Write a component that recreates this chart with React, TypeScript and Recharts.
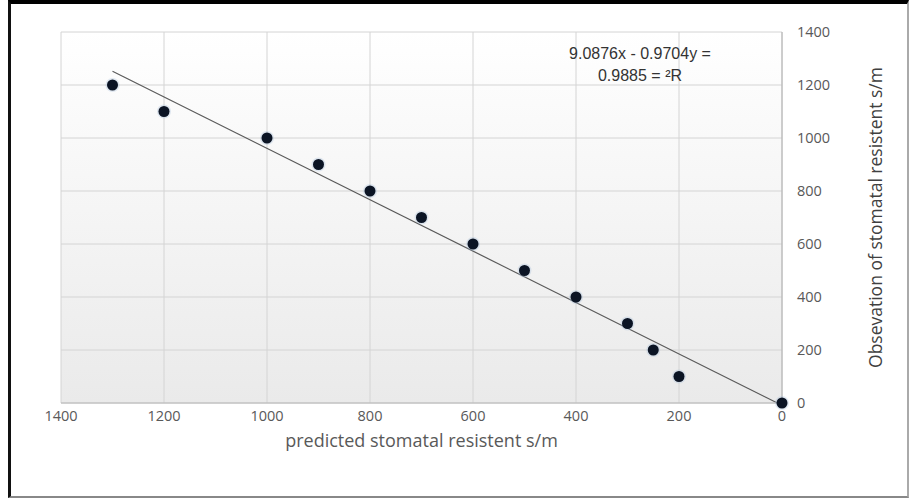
import {
  Scatter, XAxis, YAxis, CartesianGrid, Line, ComposedChart,
} from 'recharts';

// predicted stomatal resistance (x) vs observed (y)
const predicted = [1300, 1200, 1000, 900, 800, 700, 600, 500, 400, 300, 250, 200, 0];
const observed = [1200, 1100, 1000, 900, 800, 700, 600, 500, 400, 300, 200, 100, 0];

// linear trendline endpoints
const trendX = [1300, 9];
const trendY = [1252, 0];

const axisTicks = [0, 200, 400, 600, 800, 1000, 1200, 1400];

const points = predicted.map((x, i) => ({ x, y: observed[i] }));
const trend = trendX.map((x, i) => ({ x, y: trendY[i] }));

const FONT = '"Open Sans", Lato, sans-serif';
const tickStyle = { fill: '#595959', fontSize: 14.5, fontFamily: FONT };

const Dot = (props: { cx?: number; cy?: number }) => {
  const { cx, cy } = props;
  if (cx == null || cy == null) return null;
  return (
    <g>
      <circle cx={cx} cy={cy} r={7} fill="#9fb8d8" opacity={0.3} />
      <circle cx={cx} cy={cy} r={5.5} fill="#0b1424" />
    </g>
  );
};

export default function App() {
  return (
    <div style={{ position: 'absolute', left: 0, top: 0, width: 909, height: 499, background: '#fff' }}>
      <div
        style={{
          position: 'absolute', left: 8, top: 0, width: 901, height: 498,
          borderTop: '4px solid #000', borderLeft: '3px solid #111',
          borderBottom: '2px solid #888', borderRight: '2px solid #aaa',
          boxSizing: 'border-box',
        }}
      />
      <div style={{ position: 'absolute', left: 0, top: 0 }}>
        <ComposedChart
          width={909}
          height={499}
          margin={{ top: 32, left: 61, right: 67, bottom: 66 }}
        >
          <defs>
            <linearGradient id="plotFill" x1="0" y1="0" x2="0" y2="1">
              <stop offset="0%" stopColor="#ffffff" />
              <stop offset="100%" stopColor="#eaeaea" />
            </linearGradient>
          </defs>
          <CartesianGrid stroke="#d4d4d4" fill="url(#plotFill)" />
          <XAxis
            type="number"
            dataKey="x"
            domain={[0, 1400]}
            ticks={axisTicks}
            reversed
            height={30}
            tickLine={false}
            axisLine={{ stroke: '#b8b8b8' }}
            tick={tickStyle}
            tickMargin={2}
            label={{
              value: 'predicted stomatal resistent s/m',
              position: 'insideBottom',
              offset: -14,
              style: { fill: '#595959', fontSize: 18, fontFamily: FONT },
            }}
          />
          <YAxis
            type="number"
            dataKey="y"
            orientation="right"
            domain={[0, 1400]}
            ticks={axisTicks}
            width={60}
            tickLine={false}
            axisLine={{ stroke: '#b0b0b0' }}
            tick={{ ...tickStyle, textAnchor: 'start' }}
            tickMargin={9}
            label={{
              value: 'Obsevation of stomatal resistent s/m',
              angle: -90,
              position: 'insideRight',
              offset: -34,
              style: { fill: '#404040', fontSize: 17.5, fontFamily: FONT, textAnchor: 'middle' },
            }}
          />
          <Line
            data={trend}
            dataKey="y"
            type="linear"
            stroke="#5a5a5a"
            strokeWidth={1.2}
            dot={false}
            activeDot={false}
            isAnimationActive={false}
            legendType="none"
          />
          <Scatter data={points} dataKey="y" shape={<Dot />} isAnimationActive={false} />
        </ComposedChart>
      </div>
      <div
        style={{
          position: 'absolute', left: 560, top: 43, width: 160,
          textAlign: 'center', fontFamily: '"Liberation Sans", Arial, sans-serif',
          fontSize: 16, lineHeight: '22px', color: '#333',
        }}
      >
        <div>9.0876x - 0.9704y =</div>
        <div>0.9885 = ²R</div>
      </div>
    </div>
  );
}
